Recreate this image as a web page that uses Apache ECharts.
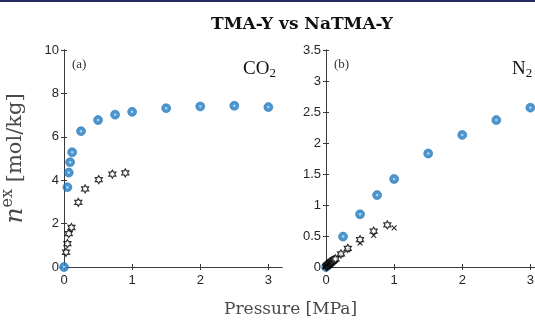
<!DOCTYPE html>
<html>
<head>
<meta charset="utf-8">
<script src="https://cdn.jsdelivr.net/npm/echarts@6/dist/echarts.min.js"></script>
<style>
  html, body { margin: 0; padding: 0; background: #fff; }
  #chart { width: 535px; height: 323px; }
</style>
</head>
<body>
<div id="chart"></div>
<script>
// tick labels
const xTicks = [0, 1, 2, 3]
const co2Ticks = [0, 2, 4, 6, 8, 10]
const n2Ticks = [0, 0.5, 1, 1.5, 2, 2.5, 3, 3.5]

// panel (a) CO2, [pressure MPa, n_ex mol/kg]
const co2Tma = [
  [0, 0], [0.05, 3.68], [0.07, 4.35], [0.09, 4.83], [0.12, 5.29], [0.25, 6.26],
  [0.5, 6.77], [0.75, 7.02], [1, 7.15], [1.5, 7.32], [2, 7.4], [2.5, 7.43], [3, 7.37],
]
const co2NaTma = [
  [0.03, 0.68], [0.05, 1.08], [0.07, 1.54], [0.11, 1.82], [0.21, 2.98],
  [0.31, 3.6], [0.51, 4.03], [0.71, 4.28], [0.9, 4.34],
]

// panel (b) N2
const n2Tma = [
  [0, 0], [0.25, 0.49], [0.5, 0.85], [0.75, 1.16], [1, 1.42], [1.5, 1.83],
  [2, 2.13], [2.5, 2.37], [3, 2.57],
]
const n2NaTma = [
  [0.005, 0.005], [0.01, 0.01], [0.015, 0.018], [0.02, 0.025], [0.03, 0.03],
  [0.035, 0.04], [0.04, 0.045], [0.05, 0.05], [0.055, 0.06], [0.06, 0.065],
  [0.07, 0.07], [0.075, 0.08], [0.08, 0.085], [0.09, 0.09], [0.1, 0.1],
  [0.11, 0.11], [0.12, 0.12], [0.14, 0.13], [0.22, 0.21], [0.32, 0.3],
  [0.5, 0.44], [0.7, 0.58], [0.9, 0.68],
]
const n2NaTmaB = [
  [0.01, 0.015], [0.02, 0.02], [0.03, 0.035], [0.04, 0.04], [0.05, 0.055],
  [0.06, 0.06], [0.07, 0.075], [0.08, 0.08], [0.1, 0.095], [0.12, 0.11],
  [0.14, 0.125], [0.22, 0.2], [0.32, 0.28], [0.5, 0.39], [0.7, 0.51], [1, 0.63],
]

const hexagram = 'path://M100,0L128.9,50L186.6,50L157.7,100L186.6,150L128.9,150L100,200L71.1,150L13.4,150L42.3,100L13.4,50L71.1,50Z'
const cross = 'path://M0,0L10,10M10,0L0,10'

const axisColor = '#3a3a3a'
const labelFont = { color: '#262626', fontSize: 13, fontFamily: 'Liberation Sans, Arial, sans-serif' }

function xAx(grid, top) {
  return {
    type: 'value', gridIndex: grid, min: 0, max: 3.2,
    position: top ? 'top' : 'bottom',
    axisLine: { show: true, lineStyle: { color: axisColor, width: 1 } },
    axisTick: { show: true, inside: true, length: 3, customValues: xTicks, lineStyle: { color: axisColor } },
    axisLabel: top ? { show: false } : { ...labelFont, margin: 7, customValues: xTicks },
    splitLine: { show: false },
  }
}

function yAx(grid, right, max, ticks, name) {
  const ax = {
    type: 'value', gridIndex: grid, min: 0, max: max,
    position: right ? 'right' : 'left',
    axisLine: { show: true, lineStyle: { color: axisColor, width: 1 } },
    axisTick: { show: true, inside: true, length: 3, customValues: ticks, lineStyle: { color: axisColor } },
    axisLabel: right ? { show: false } : { ...labelFont, margin: 5, customValues: ticks },
    splitLine: { show: false },
  }
  if (name) {
    ax.name = name
    ax.nameLocation = 'middle'
    ax.nameGap = 33
    ax.nameRotate = 90
    ax.nameTextStyle = {
      color: '#4a4a4a',
      fontFamily: 'DejaVu Serif, serif',
      fontSize: 21,
      rich: {
        n: { fontFamily: 'DejaVu Serif', fontStyle: 'italic', fontSize: 25, color: '#4a4a4a' },
        sup: { fontFamily: 'DejaVu Serif', fontSize: 16, color: '#4a4a4a', verticalAlign: 'bottom', padding: [0, 0, 15, 0] },
        t: { fontFamily: 'DejaVu Serif', fontSize: 21, color: '#4a4a4a' },
      },
    }
  }
  return ax
}

function blue(data, xi, yi) {
  return [
    {
      type: 'scatter', xAxisIndex: xi, yAxisIndex: yi, data: data, symbol: 'circle', symbolSize: 9,
      itemStyle: { color: '#1f7cc4', borderColor: '#1668a8', borderWidth: 0.6 }, z: 3,
    },
    {
      type: 'scatter', xAxisIndex: xi, yAxisIndex: yi, data: data, symbol: 'circle', symbolSize: 2.5,
      itemStyle: { color: '#cfe2f3' }, z: 4,
    },
  ]
}

function hex(data, xi, yi) {
  return {
    type: 'scatter', xAxisIndex: xi, yAxisIndex: yi, data: data, symbol: hexagram, symbolSize: [7, 8],
    itemStyle: { color: '#fff', borderColor: '#000', borderWidth: 1.2 }, z: 5,
  }
}

const chart = echarts.init(document.getElementById('chart'), null, { renderer: 'canvas' })
chart.setOption({
  animation: false,
  backgroundColor: '#fff',
  title: {
    text: 'TMA-Y vs NaTMA-Y',
    left: 297, top: 11, textAlign: 'center',
    textStyle: { fontFamily: 'DejaVu Serif, serif', fontWeight: 'bold', fontSize: 17, color: '#111' },
  },
  grid: [
    { left: 64, top: 50, width: 218, height: 217, outerBoundsMode: 'none', containLabel: false },
    { left: 326, top: 50, width: 218, height: 217, outerBoundsMode: 'none', containLabel: false },
  ],
  xAxis: [xAx(0, false), xAx(0, true), xAx(1, false), xAx(1, true)],
  yAxis: [
    yAx(0, false, 10, co2Ticks, '{n|n}{sup|ex}{t| [mol/kg]}'),
    yAx(0, true, 10, co2Ticks),
    yAx(1, false, 3.5, n2Ticks),
    yAx(1, true, 3.5, n2Ticks),
  ],
  graphic: [
    { type: 'rect', left: 0, top: 0, shape: { width: 535, height: 2 }, style: { fill: '#262a5e' } },
    { type: 'text', left: 72, top: 58, style: { text: '(a)', font: '13px "Liberation Serif", serif', fill: '#333' } },
    { type: 'text', left: 334, top: 58, style: { text: '(b)', font: '13px "Liberation Serif", serif', fill: '#333' } },
    {
      type: 'text', left: 243, top: 60,
      style: {
        text: '{m|CO}{s|2}',
        rich: {
          m: { font: '19px "Liberation Serif", serif', fill: '#111' },
          s: { font: '13px "Liberation Serif", serif', fill: '#111', verticalAlign: 'bottom', padding: [8, 0, 0, 0] },
        },
      },
    },
    {
      type: 'text', left: 512, top: 60,
      style: {
        text: '{m|N}{s|2}',
        rich: {
          m: { font: '19px "Liberation Serif", serif', fill: '#111' },
          s: { font: '13px "Liberation Serif", serif', fill: '#111', verticalAlign: 'bottom', padding: [8, 0, 0, 0] },
        },
      },
    },
    {
      type: 'text', left: 224, top: 301,
      style: { text: 'Pressure [MPa]', font: '17px "DejaVu Serif", serif', fill: '#4a4a4a' },
    },
  ],
  series: [
    ...blue(co2Tma, 0, 0),
    hex(co2NaTma, 0, 0),
    ...blue(n2Tma, 2, 2),
    {
      type: 'scatter', xAxisIndex: 2, yAxisIndex: 2, data: n2NaTmaB, symbol: cross, symbolSize: 5,
      itemStyle: { color: 'none', borderColor: '#000', borderWidth: 1.2 }, z: 5,
    },
    hex(n2NaTma, 2, 2),
  ],
})
</script>
</body>
</html>
